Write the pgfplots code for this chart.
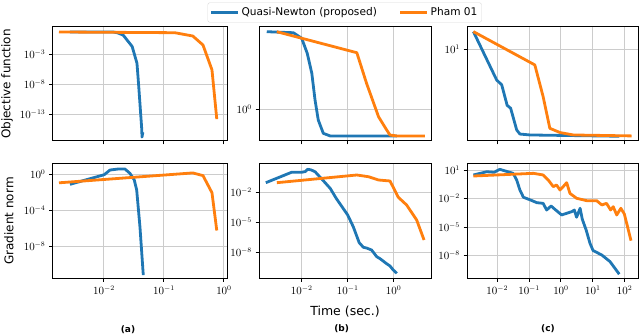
\documentclass[border=0pt]{standalone}
\usepackage{fontspec}
\setmainfont{DejaVu Sans}
\usepackage{pgfplots}
\pgfplotsset{compat=1.18}
\definecolor{qnblue}{HTML}{1F77B4}
\definecolor{phorange}{HTML}{FF7F0E}
\pgfplotsset{
  every axis/.append style={scale only axis,
    grid=major, major grid style={black!20, line width=1pt},
    xminorticks=false, yminorticks=false,
    axis line style={line width=1pt},
    tick align=outside, major tick length=3.5pt,
    every tick/.append style={black, line width=1pt},
    tick pos=left,
    tick label style={font=\fontsize{10.5}{12}\selectfont}},
  qn/.style={color=qnblue, line width=2.8pt, line join=round},
  ph/.style={color=phorange, line width=2.8pt, line join=round},
}
\begin{document}
\begin{tikzpicture}[x=1pt,y=1pt]
\useasboundingbox (0,0) rectangle (640,334);
% ---------- (a) top
\begin{loglogaxis}[at={(52.5pt,193pt)}, anchor=south west, width=175.5pt, height=114.3pt,
  xmin=1.387e-3, xmax=1.167, ymin=3.55e-18, ymax=39.8,
  xtick={1e-2,1e-1,1e0}, xticklabels={}, ytick={1e-3,1e-8,1e-13}]
\addplot[qn] coordinates {(2.69e-3,5.25) (1.41e-2,5.25) (1.66e-2,3.98) (2.09e-2,1.58) (2.95e-2,2.0e-2) (3.55e-2,3.16e-5) (3.80e-2,3.98e-9) (4.27e-2,2.51e-16) (4.30e-2,1.6e-17) (4.45e-2,1.0e-16)};
\addplot[ph] coordinates {(1.78e-3,5.25) (0.151,3.98) (0.302,1.12) (0.447,3.55e-2) (0.631,2.51e-6) (0.759,1.58e-14)};
\end{loglogaxis}
% ---------- (b) top
\begin{loglogaxis}[at={(259pt,193pt)}, anchor=south west, width=173pt, height=114.3pt,
  xmin=1.18e-3, xmax=6.8, ymin=0.482, ymax=6.70,
  xtick={1e-2,1e-1,1e0}, xticklabels={}, ytick={1e0},
  legend columns=2,
  legend style={at={(0.495,1.124)}, anchor=center, draw=black!15, rounded corners=2pt,
    fill=white, font=\fontsize{10.6}{12}\selectfont, inner xsep=2pt, inner ysep=3pt,
    /tikz/every even column/.append style={column sep=20pt}},
  legend image code/.code={\draw[#1] (0pt,0pt) -- (27pt,0pt);}]
\addplot[qn] coordinates {(1.74e-3,5.97) (6.61e-3,5.83) (1e-2,5.13) (1.32e-2,3.63) (1.66e-2,2.29) (1.95e-2,1.24) (2.29e-2,0.782) (2.95e-2,0.575) (4.17e-2,0.541) (1.17,0.541)};
\addlegendentry{Quasi-Newton (proposed)}
\addplot[ph] coordinates {(2.88e-3,5.97) (0.158,3.68) (0.257,1.82) (0.468,0.843) (0.704,0.621) (0.832,0.553) (1.17,0.541) (4.79,0.541)};
\addlegendentry{Pham 01}
\end{loglogaxis}
% ---------- (c) top
\begin{loglogaxis}[at={(467pt,193pt)}, anchor=south west, width=171pt, height=114.3pt,
  xmin=1.12e-3, xmax=262, ymin=1.21, ymax=16.8,
  xtick={1e-2,1e-1,1e0,1e1,1e2}, xticklabels={}, ytick={1e1}]
\addplot[qn] coordinates {(1.78e-3,15.0) (9.55e-3,4.93) (1.38e-2,4.40) (2.04e-2,2.75) (2.63e-2,2.57) (4.07e-2,1.56) (5.13e-2,1.42) (0.107,1.39) (67.6,1.35)};
\addplot[ph] coordinates {(1.78e-3,15.0) (0.151,6.97) (0.275,3.36) (0.447,1.62) (0.933,1.47) (2.45,1.39) (166,1.36)};
\end{loglogaxis}
% ---------- (a) bottom
\begin{loglogaxis}[at={(52.5pt,55.5pt)}, anchor=south west, width=175.5pt, height=114.5pt,
  xmin=1.387e-3, xmax=1.167, ymin=2.95e-12, ymax=15.5,
  xtick={1e-2,1e-1,1e0}, ytick={1e0,1e-4,1e-8}]
\addplot[qn] coordinates {(2.71e-3,8.51e-2) (1.01e-2,1.0) (1.26e-2,3.31) (1.71e-2,4.27) (2.24e-2,4.27) (2.71e-2,1.41) (3.2e-2,0.257) (3.51e-2,2.0e-2) (3.98e-2,1.58e-6) (4.52e-2,7.08e-12)};
\addplot[ph] coordinates {(1.78e-3,0.126) (0.302,1.58) (0.447,0.794) (0.631,1e-2) (0.759,6.31e-7)};
\end{loglogaxis}
% ---------- (b) bottom
\begin{loglogaxis}[at={(259pt,55.5pt)}, anchor=south west, width=173pt, height=114.5pt,
  xmin=1.18e-3, xmax=6.8, ymin=2.63e-11, ymax=7.41,
  xtick={1e-2,1e-1,1e0}, ytick={1e-2,1e-5,1e-8}]
\addplot[qn] coordinates {(1.66e-3,0.1) (6.03e-3,1.1) (1e-2,1.1) (1.2e-2,1.3) (1.35e-2,2.19) (1.6e-2,1.9) (1.95e-2,1.26) (2.95e-2,0.158) (4.17e-2,2.69e-2) (5.62e-2,2.75e-3) (0.1,5.89e-5) (0.132,3.98e-6) (0.178,1e-7) (0.219,3.47e-8) (0.26,2.9e-8) (0.331,1.86e-8) (0.427,3.98e-9) (0.5,2.6e-9) (0.589,1.48e-9) (0.7,8e-10) (0.832,4.68e-10) (0.977,1.86e-10) (1.17,8.71e-11)};
\addplot[ph] coordinates {(2.88e-3,0.1) (0.158,0.589) (0.282,0.398) (0.468,0.186) (0.832,0.148) (1.26,3.47e-3) (1.91,5.89e-4) (3.16,1.86e-5) (4.57,1.86e-7)};
\end{loglogaxis}
% ---------- (c) bottom
\begin{loglogaxis}[at={(467pt,55.5pt)}, anchor=south west, width=171pt, height=114.5pt,
  xmin=1.12e-3, xmax=262, ymin=4.07e-11, ymax=42.7,
  xtick={1e-2,1e-1,1e0,1e1,1e2}, ytick={1e1,1e-2,1e-5,1e-8}]
\addplot[qn] coordinates {(1.78e-3,2.99) (4.68e-3,6.61) (7.94e-3,5.75) (1.2e-2,11.7) (3.16e-2,4.47) (4.07e-2,0.891) (5.13e-2,7.94e-2) (6.61e-2,1.38e-2) (0.12,6.31e-3) (0.174,3.72e-3) (0.275,3.16e-3) (0.355,6.31e-4) (0.49,1.66e-3) (0.646,7.41e-4) (1.05,1.91e-4) (2.19,4.27e-4) (2.63,6.31e-4) (3.09,1.1e-4) (3.98,9.55e-4) (4.68,6.61e-5) (6.17,5.01e-6) (8.13,2.04e-7) (10.2,3.47e-8) (19.1,1.2e-8) (34.7,2.4e-9) (67.6,1.15e-10)};
\addplot[ph] coordinates {(1.78e-3,2.34) (0.135,4.47) (0.275,3.02) (0.398,0.891) (0.575,0.178) (0.724,0.269) (0.933,7.94e-2) (1.17,0.178) (1.51,0.468) (1.91,3.55e-2) (3.09,1.07e-2) (6.46,6.03e-3) (13.2,6.03e-3) (19.1,2.14e-3) (26.9,3.16e-3) (36.3,6.31e-4) (43.7,1.41e-3) (56.2,1.91e-4) (75.9,9.55e-4) (97.7,2.4e-4) (123,1.12e-5) (158,3.8e-7)};
\end{loglogaxis}
% ---------- labels
\node[rotate=90, anchor=north, inner sep=0pt, font=\fontsize{12}{14}\selectfont] at (1,250) {Objective function};
\node[rotate=90, anchor=north, inner sep=0pt, font=\fontsize{12}{14}\selectfont] at (4,113) {Gradient norm};
\node[font=\fontsize{12.5}{14}\selectfont] at (345,22.3) {Time (sec.)};
\node[font=\bfseries\fontsize{9}{10}\selectfont] at (128,4.5) {(a)};
\node[font=\bfseries\fontsize{9}{10}\selectfont] at (341.7,5) {(b)};
\node[font=\bfseries\fontsize{9}{10}\selectfont] at (548,5) {(c)};
\end{tikzpicture}
\end{document}
